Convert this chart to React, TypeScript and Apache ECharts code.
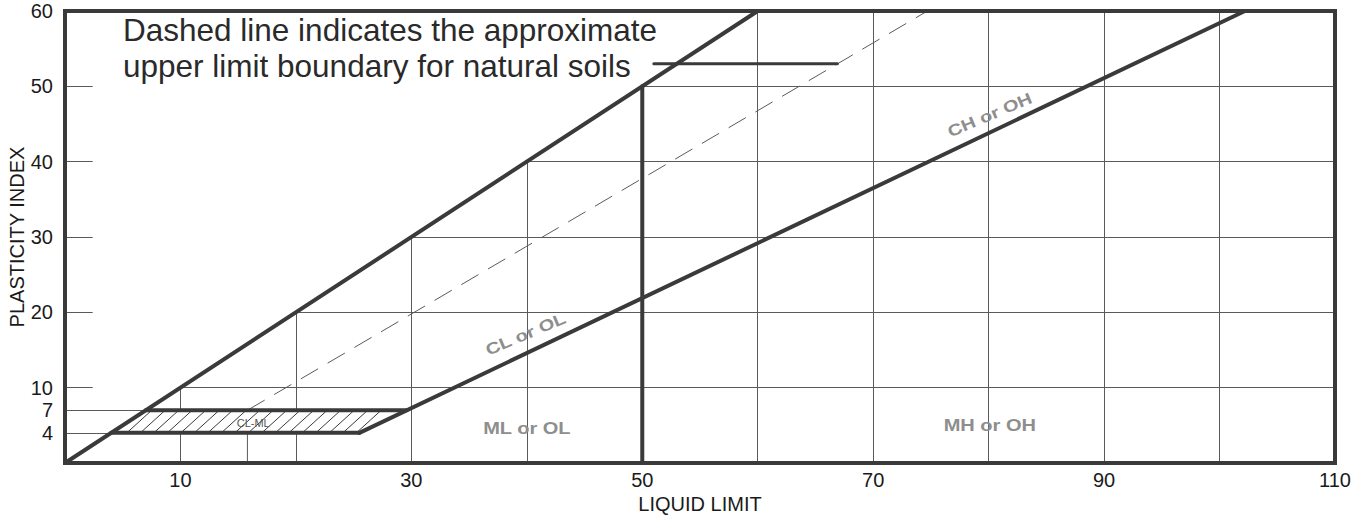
import React, { useEffect, useRef } from 'react';
import * as echarts from 'echarts';

// ---- data ----
const xTickLabels = [10, 30, 50, 70, 90, 110];
const yTickLabels = [4, 7, 10, 20, 30, 40, 50, 60];
const xGridValues = [10, 20, 30, 40, 60, 70, 80, 90, 100];
const yGridValues = [10, 20, 30, 40, 50];
const yBandLevels = [4, 7];

const upperLine = [[0, 0], [60, 60]];
const aLine = [[25.5, 4], [102.2, 60]];
const llBoundary = [[50, 0], [50, 50]];
const uLineDashed = [[15.8, 7], [74.7, 60]];
const uLineVertical = [[15.8, 0], [15.8, 4]];
const bandTop = [[7, 7], [29.6, 7]];
const bandBottom = [[4, 4], [25.5, 4]];
const clmlBand = [[4, 4], [25.5, 4], [29.6, 7], [7, 7]];
const leaderLine = [[51, 53], [66.9, 53]];

const flatLabels = ['ML or OL', 'MH or OH'];
const flatLabelPoints = [[40, 4.6], [80.1, 5.0]];
const slopedLabels = ['CL or OL', 'CH or OH'];
const slopedLabelPoints = [[39.9, 17.1], [80.1, 46.2]];
const bandLabel = 'CL-ML';
const bandLabelPoint = [16.3, 5.3];

const noteLines = ['Dashed line indicates the approximate', 'upper limit boundary for natural soils'];
const xAxisTitle = 'LIQUID LIMIT';
const yAxisTitle = 'PLASTICITY INDEX';

const FONT = '"Liberation Sans", Arial, sans-serif';
const THICK = '#3a3a3a';
const THIN = '#5a5a5a';
const LABEL_GRAY = '#8e8e8e';

function thickLine(data: number[][], width = 4) {
  return {
    type: 'line',
    data,
    symbol: 'none',
    silent: true,
    z: 5,
    lineStyle: { width, color: THICK, cap: 'round' },
  };
}

export default function App() {
  const ref = useRef<HTMLDivElement>(null);

  useEffect(() => {
    if (!ref.current) return;
    const chart = echarts.init(ref.current, null, { renderer: 'svg' });

    const gridSegments = [
      ...xGridValues.map((v) => ({ coords: [[v, 0], [v, Math.min(v, 60)]] })),
      ...yGridValues.map((v) => ({ coords: [[v, v], [110, v]] })),
      ...yGridValues.map((v) => ({ coords: [[0, v], [2.4, v]] })),
      ...yBandLevels.map((v) => ({ coords: [[0, v], [v, v]] })),
    ];

    const option: any = {
      animation: false,
      backgroundColor: '#ffffff',
      grid: {
        left: 65,
        right: 35,
        top: 11,
        bottom: 53,
        outerBoundsMode: 'none',
        containLabel: false,
        show: true,
        borderWidth: 4,
        borderColor: THICK,
        backgroundColor: 'transparent',
        z: 10,
      },
      xAxis: {
        type: 'value',
        min: 0,
        max: 110,
        interval: 10,
        name: xAxisTitle,
        nameLocation: 'middle',
        nameGap: 31,
        nameMoveOverlap: false,
        nameTextStyle: { fontSize: 20, color: '#1a1a1a', fontFamily: FONT },
        axisLine: { show: false },
        axisTick: { show: false },
        splitLine: { show: false },
        axisLabel: {
          margin: 7,
          fontSize: 20,
          color: '#1a1a1a',
          fontFamily: FONT,
          formatter: (v: number) => (xTickLabels.includes(v) ? String(v) : ''),
        },
      },
      yAxis: {
        type: 'value',
        min: 0,
        max: 60,
        interval: 1,
        name: yAxisTitle,
        nameLocation: 'middle',
        nameGap: 38,
        nameMoveOverlap: false,
        nameTextStyle: { fontSize: 20, color: '#1a1a1a', fontFamily: FONT },
        axisLine: { show: false },
        axisTick: { show: false },
        splitLine: { show: false },
        axisLabel: {
          margin: 12,
          fontSize: 20,
          color: '#1a1a1a',
          fontFamily: FONT,
          formatter: (v: number) => (yTickLabels.includes(v) ? String(v) : ''),
        },
      },
      graphic: [
        {
          type: 'text',
          x: 123,
          y: 30,
          z: 20,
          style: {
            text: noteLines[0],
            fontSize: 31.5,
            fontFamily: FONT,
            fill: '#2a2a2a',
            verticalAlign: 'middle',
            align: 'left',
          },
        },
        {
          type: 'text',
          x: 123,
          y: 66,
          z: 20,
          style: {
            text: noteLines[1],
            fontSize: 31.5,
            fontFamily: FONT,
            fill: '#2a2a2a',
            verticalAlign: 'middle',
            align: 'left',
          },
        },
      ],
      series: [
        {
          type: 'lines',
          coordinateSystem: 'cartesian2d',
          silent: true,
          z: 1,
          lineStyle: { width: 1, color: THIN, opacity: 1 },
          data: gridSegments,
        },
        {
          type: 'custom',
          coordinateSystem: 'cartesian2d',
          silent: true,
          z: 3,
          data: [clmlBand[0]],
          renderItem: (params: any, api: any) => {
            const pts = clmlBand.map((p) => api.coord(p));
            const [bl, br, tr, tl] = pts;
            const yb = bl[1];
            const yt = tl[1];
            const h = yb - yt;
            const a = h * 1.1;
            const dL = tl[0] - bl[0];
            const dR = tr[0] - br[0];
            const children: any[] = [
              { type: 'polygon', shape: { points: pts }, style: { fill: '#ffffff', stroke: 'none' } },
            ];
            for (let c = bl[0] - a; c < br[0] + 1; c += 13.5) {
              let t0 = 0;
              let t1 = 1;
              const cons = [
                [c - bl[0], a - dL],
                [br[0] - c, dR - a],
              ];
              let ok = true;
              for (const [p, q] of cons) {
                if (Math.abs(q) < 1e-9) {
                  if (p < 0) ok = false;
                } else if (q > 0) {
                  t0 = Math.max(t0, -p / q);
                } else {
                  t1 = Math.min(t1, -p / q);
                }
              }
              if (!ok || t1 - t0 < 0.02) continue;
              children.push({
                type: 'line',
                shape: {
                  x1: c + t0 * a,
                  y1: yb - t0 * h,
                  x2: c + t1 * a,
                  y2: yb - t1 * h,
                },
                style: { stroke: '#3a3a3a', lineWidth: 1 },
              });
            }
            return { type: 'group', children };
          },
        },
        {
          type: 'line',
          data: uLineDashed,
          symbol: 'none',
          silent: true,
          z: 4,
          lineStyle: { width: 1, color: THIN, type: [20, 11] },
        },
        {
          type: 'line',
          data: uLineVertical,
          symbol: 'none',
          silent: true,
          z: 4,
          lineStyle: { width: 1, color: THIN },
        },
        thickLine(upperLine),
        thickLine(aLine),
        thickLine(llBoundary),
        thickLine(bandTop),
        thickLine(bandBottom),
        thickLine(leaderLine, 3),
        {
          type: 'custom',
          coordinateSystem: 'cartesian2d',
          silent: true,
          z: 6,
          data: flatLabelPoints,
          renderItem: (params: any, api: any) => {
            const p = api.coord([api.value(0), api.value(1)]);
            return {
              type: 'text',
              x: p[0],
              y: p[1],
              scaleX: 1.25,
              style: {
                text: flatLabels[params.dataIndex],
                fontSize: 16,
                fontWeight: 'bold',
                fontFamily: FONT,
                fill: LABEL_GRAY,
                align: 'center',
                verticalAlign: 'middle',
              },
            };
          },
        },
        {
          type: 'custom',
          coordinateSystem: 'cartesian2d',
          silent: true,
          z: 6,
          data: slopedLabelPoints,
          renderItem: (params: any, api: any) => {
            const p = api.coord([api.value(0), api.value(1)]);
            return {
              type: 'text',
              x: p[0],
              y: p[1],
              rotation: (23 * Math.PI) / 180,
              scaleX: 1.25,
              style: {
                text: slopedLabels[params.dataIndex],
                fontSize: 16,
                fontWeight: 'bold',
                fontFamily: FONT,
                fill: LABEL_GRAY,
                align: 'center',
                verticalAlign: 'middle',
              },
            };
          },
        },
        {
          type: 'custom',
          coordinateSystem: 'cartesian2d',
          silent: true,
          z: 6,
          data: [bandLabelPoint],
          renderItem: (params: any, api: any) => {
            const p = api.coord([api.value(0), api.value(1)]);
            return {
              type: 'text',
              x: p[0],
              y: p[1],
              style: {
                text: bandLabel,
                fontSize: 11,
                fontFamily: FONT,
                fill: '#555555',
                align: 'center',
                verticalAlign: 'middle',
              },
            };
          },
        },
      ],
    };

    chart.setOption(option);
    return () => chart.dispose();
  }, []);

  return (
    <div
      ref={ref}
      style={{ position: 'fixed', left: 0, top: 0, width: 1370, height: 516, background: '#fff' }}
    />
  );
}
